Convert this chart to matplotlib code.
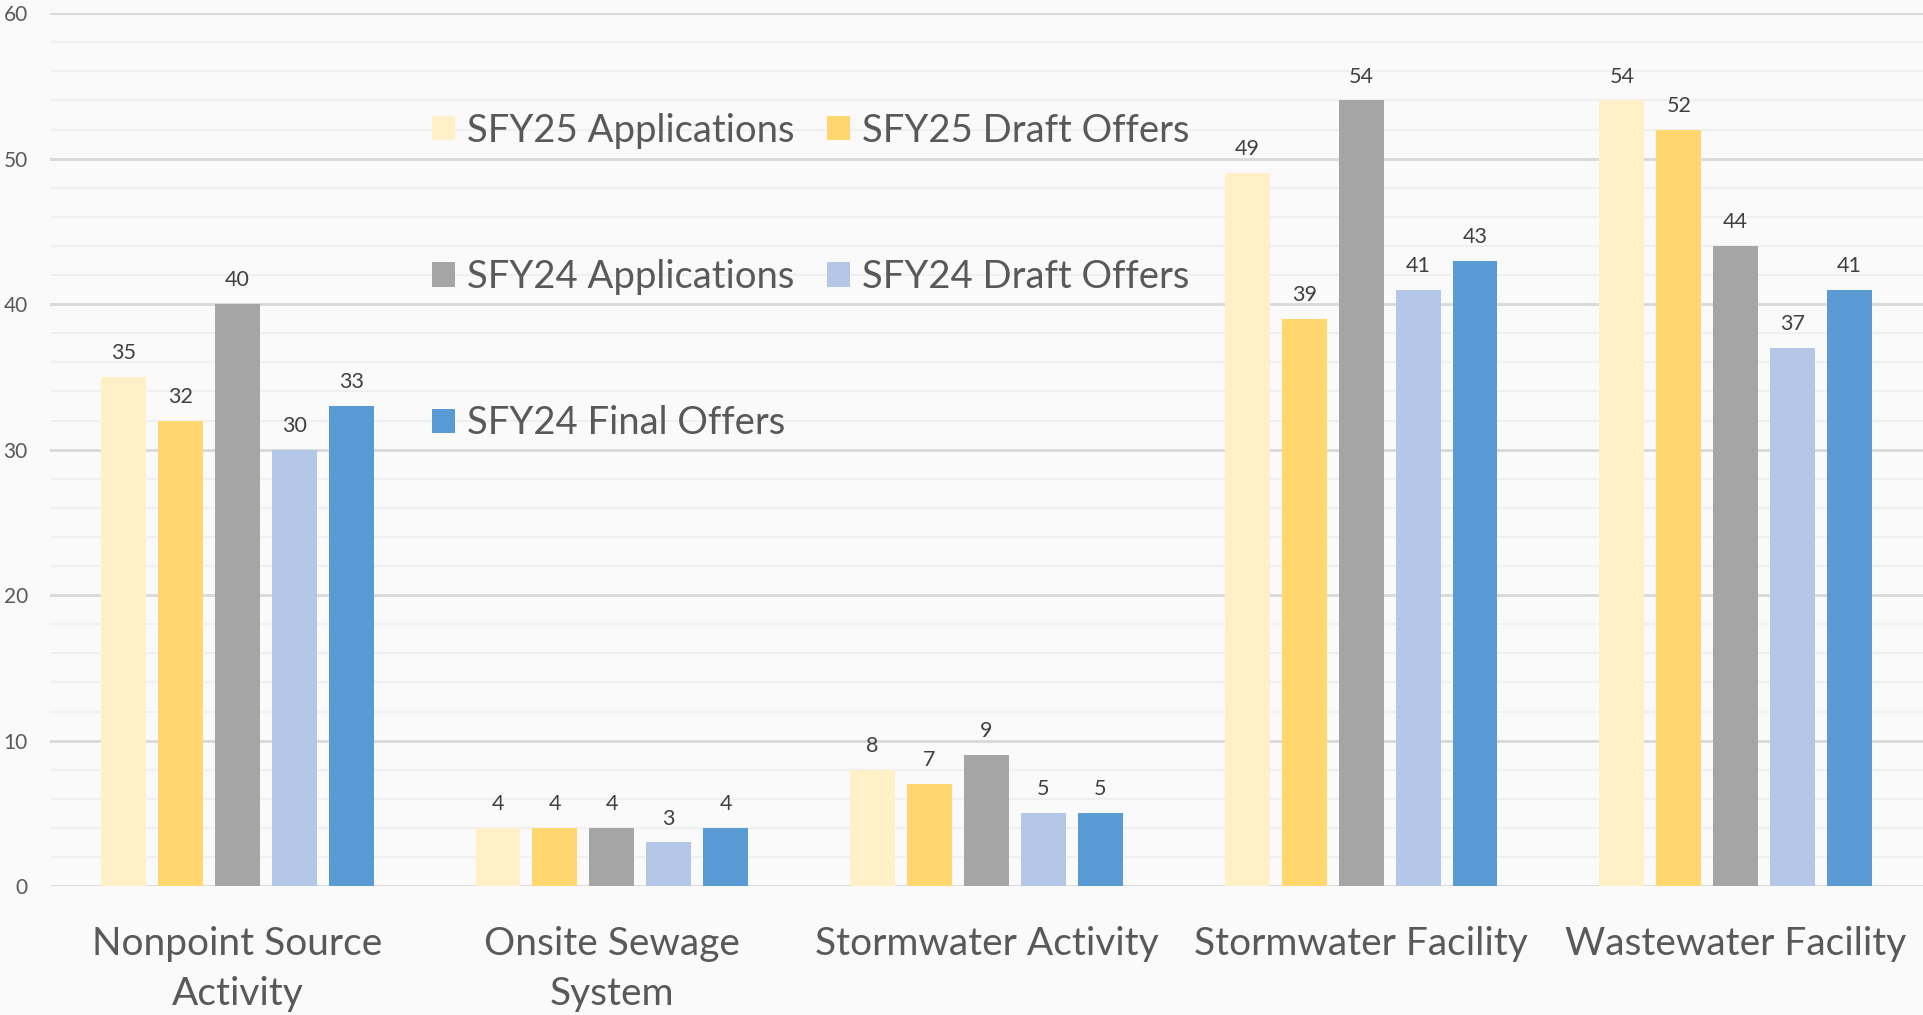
import matplotlib
matplotlib.use('Agg')
import matplotlib.pyplot as plt
import numpy as np

# Categorias e séries
categorias = ["Nonpoint Source\nActivity", "Onsite Sewage\nSystem", "Stormwater Activity",
              "Stormwater Facility", "Wastewater Facility"]
series = ["SFY25 Applications", "SFY25 Draft Offers", "SFY24 Applications",
          "SFY24 Draft Offers", "SFY24 Final Offers"]
sfy25_applications = [35, 4, 8, 49, 54]
sfy25_draft_offers = [32, 4, 7, 39, 52]
sfy24_applications = [40, 4, 9, 54, 44]
sfy24_draft_offers = [30, 3, 5, 41, 37]
sfy24_final_offers = [33, 4, 5, 43, 41]
cores = ["#FFF0C8", "#FFD76E", "#A5A5A5", "#B4C7E7", "#5B9BD5"]

valores = [sfy25_applications, sfy25_draft_offers, sfy24_applications,
           sfy24_draft_offers, sfy24_final_offers]

plt.rcParams['font.family'] = ['Lato', 'DejaVu Sans']

fig = plt.figure(figsize=(19.23, 10.15), dpi=100)
fig.patch.set_facecolor("#FAFAFA")
ax = fig.add_axes([0.026, 0.127, 0.974, 0.860])
ax.set_facecolor("#FAFAFA")

x = np.arange(len(categorias))
passo = 0.152
largura = 0.12
barras = []
for i, (nome, vals, cor) in enumerate(zip(series, valores, cores)):
    b = ax.bar(x + (i - 2) * passo, vals, largura, color=cor, label=nome, zorder=3)
    barras.append(b)
    for xi, v in zip(x + (i - 2) * passo, vals):
        ax.annotate(str(v), (xi, v), xytext=(0, 10), textcoords="offset points",
                    ha="center", va="bottom", fontsize=15.5, color="#404040")

ax.set_xlim(-0.5, 4.5)
ax.set_ylim(0, 60)
ax.set_yticks(np.arange(0, 61, 10))
ax.set_yticks(np.arange(0, 61, 2), minor=True)
ax.grid(True, axis="y", which="major", color="#D9D9D9", linewidth=2, zorder=1)
ax.grid(True, axis="y", which="minor", color="#F0F0F0", linewidth=1.5, zorder=0)
ax.set_xticks(x)
ax.set_xticklabels(categorias, fontsize=28, color="#595959", linespacing=1.47)
ax.tick_params(axis="x", length=0, pad=29)
ax.tick_params(axis="y", which="both", length=0, pad=16, labelsize=15, labelcolor="#595959")
for s in ax.spines.values():
    s.set_visible(False)

ordem = [0, 2, 4, 1, 3]
ax.legend([barras[i] for i in ordem], [series[i] for i in ordem], ncol=2,
          loc="upper left", bbox_to_anchor=(0.2245, 0.889), bbox_transform=fig.transFigure,
          frameon=False, fontsize=27.5, labelcolor="#595959", handlelength=0.6,
          handleheight=0.6, handletextpad=0.32, columnspacing=0.85, labelspacing=2.89,
          borderpad=0, borderaxespad=0)

fig.savefig("out.png", dpi=100, facecolor=fig.get_facecolor())
